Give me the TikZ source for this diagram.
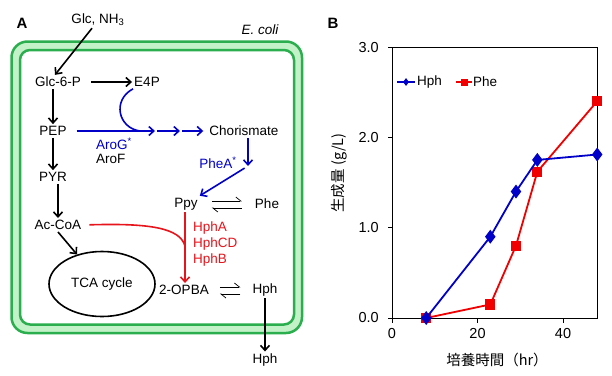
\documentclass[tikz,border=0pt]{standalone}
\usepackage{fontspec}
\setmainfont{Liberation Sans}
\newfontfamily\jpfont{Noto Sans CJK JP}
\usepackage{tikz}
\usetikzlibrary{arrows.meta,positioning,shapes.geometric,plotmarks}
\definecolor{cellgreen}{HTML}{2BAE4E}
\definecolor{lightgreen}{HTML}{C3F1C8}
\definecolor{pathblue}{HTML}{0000C8}
\definecolor{pathred}{HTML}{E8141C}
\definecolor{plotred}{HTML}{F00000}

\begin{document}
\begin{tikzpicture}[x=1pt, y=-1pt,
  every node/.style={font=\fontsize{13.5}{16}\selectfont, inner sep=2pt},
  arr/.style={-{Straight Barb[length=5pt,width=9pt]}, line width=1.6pt},
  barr/.style={arr, pathblue},
  rarr/.style={arr, pathred},
  harp/.style={-{Straight Barb[harpoon,length=5pt,width=8pt]}, line width=0.7pt},
  wall/.style={draw=cellgreen, line width=2.5pt},
  ticklbl/.style={font=\fontsize{14.5}{16}\selectfont},
  axtitle/.style={font=\jpfont\fontsize{14.5}{16}\selectfont}]
  \useasboundingbox (0,0) rectangle (612,375);

  % panel A: cell
  \draw[wall, fill=lightgreen, rounded corners=16pt] (11.5,41.5) rectangle (302,333);
  \draw[wall, fill=white, rounded corners=10pt] (20,50) rectangle (294,324.5);
  \node[font=\bfseries\fontsize{15}{17}\selectfont] (lblA) at (22,23) {A};
  \node[font=\itshape\fontsize{13.5}{16}\selectfont] (ecoli) at (260,30) {E. coli};

  \node (glc) at (98,20) {Glc, NH\textsubscript{3}};
  \node (g6p) at (58,82) {Glc-6-P};
  \node (e4p) at (147,82) {E4P};
  \node (pep) at (53,131) {PEP};
  \node (pyr) at (53,177) {PYR};
  \node (acoa) at (58,225) {Ac-CoA};
  \node[ellipse, draw, line width=1.6pt, minimum width=106pt, minimum height=65pt] (tca) at (102,284) {TCA cycle};
  \node (chor) at (244,131) {Chorismate};
  \node (ppy) at (186,204) {Ppy};
  \node (phe) at (267,204) {Phe};
  \node (opba) at (184,290) {2-OPBA};
  \node (hph) at (265,290) {Hph};
  \node (hphout) at (265,360) {Hph};

  % enzymes
  \node[anchor=west, pathblue] (arog) at (94,144) {AroG\textsuperscript{*}};
  \node[anchor=west] (arof) at (94,159) {AroF};
  \node[pathblue] (phea) at (218,163) {PheA\textsuperscript{*}};
  \node[anchor=west, pathred] (hpha) at (191,228) {HphA};
  \node[anchor=west, pathred] (hphcd) at (191,244) {HphCD};
  \node[anchor=west, pathred] (hphb) at (191,260) {HphB};

  \coordinate (b1) at (155,131);
  \coordinate (b2) at (180,131);
  \coordinate (mrg) at (140,131);
  \coordinate (pk) at (248,166);
  \coordinate (rj) at (185,246);

  % black arrows
  \draw[arr] ([xshift=-6pt]glc.south) -- ([xshift=-3pt]g6p.north);
  \draw[arr, shorten <=8pt] (g6p) -- (e4p);
  \draw[arr] (g6p.south -| pep) -- (pep);
  \draw[arr] (pep) -- (pyr);
  \draw[arr] (pyr.south -| acoa) -- (acoa);
  \draw[arr] (acoa.south) -- (tca);
  \draw[arr] (hph) -- (hphout);

  % blue: shikimate pathway
  \draw[barr, shorten <=8pt] (pep) -- (b1);
  \draw[barr, shorten <=2pt] (b1) -- (b2);
  \draw[barr, shorten <=2pt, shorten >=4pt] (b2) -- (chor);
  \draw[pathblue, line width=1.6pt] ([xshift=-14pt]e4p.south) .. controls (112,100) and (118,128) .. (mrg);
  \draw[barr] ([xshift=4pt]chor.south) -- (pk);
  \draw[barr, shorten <=4pt] (pk) -- (ppy.north east);

  % red: homologation
  \draw[rarr] ([xshift=-1pt]ppy.south) -- ([xshift=1pt]opba.north);
  \draw[pathred, line width=1.6pt, shorten <=6pt] (acoa.east) .. controls (150,223) and (180,228) .. (rj);

  % equilibria
  \draw[harp] ([shift={(12pt,3pt)}]ppy.east) -- ([shift={(-11pt,3pt)}]phe.west);
  \draw[harp] ([shift={(-11pt,-4pt)}]phe.west) -- ([shift={(12pt,-4pt)}]ppy.east);
  \draw[harp] ([shift={(9pt,3pt)}]opba.east) -- ([shift={(-10pt,3pt)}]hph.west);
  \draw[harp] ([shift={(-10pt,-4pt)}]hph.west) -- ([shift={(9pt,-4pt)}]opba.east);

  % panel B: production
  \node[font=\bfseries\fontsize{15}{17}\selectfont] (lblB) at (333,23) {B};
  \begin{scope}[shift={(392,318)}, x=4.275pt, y=90.33pt]
    \draw[line width=0.9pt] (0,0) rectangle (48,3);
    \foreach \v in {0,1,2,3} {
      \draw[line width=0.9pt] (0,\v) -- (-1,\v);
      \node[left=11pt, ticklbl] (ylab\v) at (0,\v) {\v.0};
    }
    \foreach \t in {0,20,40} {
      \draw[line width=0.9pt] (\t,0) -- (\t,-0.05);
      \node[below=8pt, ticklbl] (xlab\t) at (\t,0) {\t};
    }
    \draw[plotred, line width=1.8pt] plot[mark=square*, mark size=4.2pt]
      coordinates {(8,0) (23,0.15) (29,0.8) (34,1.62) (48,2.4)};
    \draw[pathblue, line width=1.8pt] plot[mark=diamond*, mark size=5.5pt]
      coordinates {(8,0) (23,0.9) (29,1.4) (34,1.75) (48,1.81)};
  \end{scope}

  % legend
  \node[diamond, fill=pathblue, inner sep=0pt, minimum width=6pt, minimum height=8pt] (keyhph) at (406,82) {};
  \node[anchor=west] (txthph) at (415,82) {Hph};
  \draw[pathblue, line width=1.8pt] (397,82) -- (415,82);
  \node[rectangle, fill=plotred, inner sep=0pt, minimum size=7pt] (keyphe) at (464,82) {};
  \node[anchor=west] (txtphe) at (471,82) {Phe};
  \draw[plotred, line width=1.8pt] (456,82) -- (472,82);

  \node[rotate=90, axtitle] (ytitle) at (339,173) {生成量 (g/L)};
  \node[axtitle] (xtitle) at (497,360) {培養時間（hr）};
\end{tikzpicture}
\end{document}
